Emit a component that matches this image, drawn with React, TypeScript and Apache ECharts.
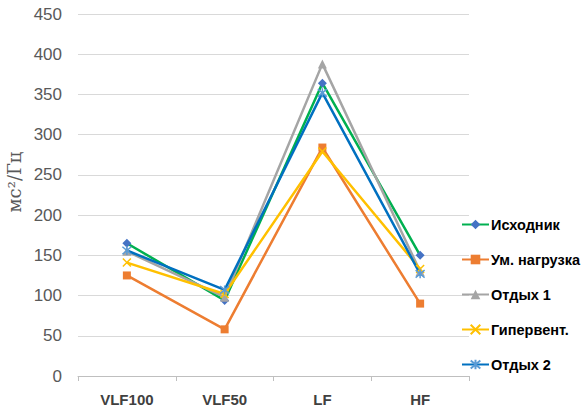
import React, { useEffect, useRef } from "react";
import * as echarts from "echarts";

const categories = ["VLF100", "VLF50", "LF", "HF"];
const seriesNames = ["Исходник", "Ум. нагрузка", "Отдых 1", "Гипервент.", "Отдых 2"];
const ishodnik = [165, 94, 364, 150];
const umNagruzka = [125, 58, 284, 90];
const otdyh1 = [155, 98, 388, 130];
const giperv = [141, 102, 279, 133];
const otdyh2 = [156, 107, 352, 127];

const xSymbol = "path://M0,0L10,10M10,0L0,10";
const starSymbol = "path://M0,0L10,10M10,0L0,10M5,-1L5,11";

export default function App() {
  const ref = useRef<HTMLDivElement>(null);
  useEffect(() => {
    if (!ref.current) return;
    const chart = echarts.init(ref.current, null, { renderer: "svg" });
    const mk = (name: string, data: number[], line: string, mark: string, symbol: string, size: number, stroke = false) => ({
      name,
      type: "line",
      data,
      symbol,
      symbolSize: size,
      lineStyle: { color: line, width: 2.5 },
      itemStyle: stroke
        ? { color: mark, borderColor: mark, borderWidth: 1.5 }
        : { color: mark, borderWidth: 0 },
      emphasis: { disabled: true },
    });
    chart.setOption({
      animation: false,
      backgroundColor: "#ffffff",
      grid: { left: 78, right: 114, top: 14, bottom: 35, containLabel: false },
      xAxis: {
        type: "category",
        data: categories,
        boundaryGap: true,
        axisLine: { lineStyle: { color: "#BFBFBF", width: 1 } },
        axisTick: { show: true, length: 5, lineStyle: { color: "#BFBFBF" } },
        axisLabel: {
          color: "#404040",
          fontSize: 15,
          fontWeight: "bold",
          fontFamily: "Liberation Sans, Arial, sans-serif",
          margin: 16,
        },
      },
      yAxis: {
        type: "value",
        min: 0,
        max: 450,
        interval: 50,
        axisLine: { show: false },
        axisTick: { show: false },
        splitLine: { lineStyle: { color: "#D9D9D9", width: 1 } },
        axisLabel: {
          color: "#595959",
          fontSize: 17,
          fontFamily: "Liberation Sans, Arial, sans-serif",
          margin: 16,
        },
      },
      legend: {
        orient: "vertical",
        left: 461,
        top: 217,
        padding: 0,
        itemWidth: 27,
        itemHeight: 12,
        itemGap: 20,
        data: seriesNames,
        textStyle: {
          color: "#000000",
          fontSize: 14.5,
          fontWeight: "bold",
          fontFamily: "Liberation Sans, Arial, sans-serif",
          padding: [0, 0, 0, -3],
        },
      },
      graphic: [
        {
          type: "text",
          x: 14,
          y: 182,
          rotation: Math.PI / 2,
          style: {
            text: "мс²/Гц",
            fill: "#595959",
            fontSize: 18,
            fontFamily: "DejaVu Serif, Liberation Serif, serif",
            align: "center",
            verticalAlign: "middle",
          },
        },
      ],
      series: [
        mk(seriesNames[0], ishodnik, "#00B050", "#4472C4", "diamond", 9),
        mk(seriesNames[1], umNagruzka, "#ED7D31", "#ED7D31", "rect", 8),
        mk(seriesNames[2], otdyh1, "#A5A5A5", "#A5A5A5", "triangle", 9),
        mk(seriesNames[3], giperv, "#FFC000", "#FFC000", xSymbol, 8, true),
        mk(seriesNames[4], otdyh2, "#0070C0", "#5B9BD5", starSymbol, 9, true),
      ],
    });
    return () => chart.dispose();
  }, []);
  return <div ref={ref} style={{ position: "fixed", left: 0, top: 0, width: 583, height: 411 }} />;
}
